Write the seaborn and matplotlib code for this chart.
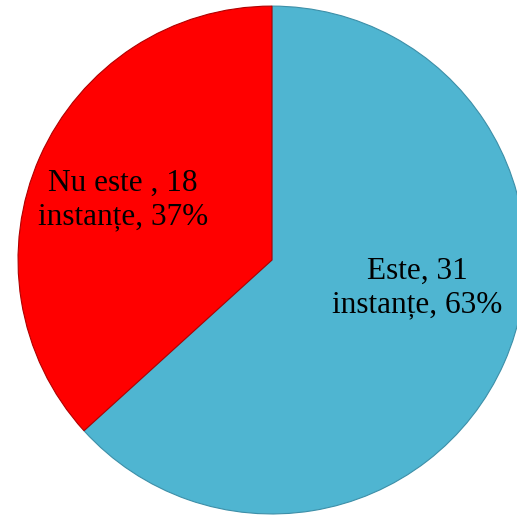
import matplotlib
matplotlib.use("Agg")
import matplotlib.pyplot as plt
import seaborn as sns

# Date
categorii = ['Este', 'Nu este ']
instante = [31, 18]
procente = [63, 37]
culori = ['#4FB5D1', '#FF0000']

sns.set_theme(style="white")
plt.rcParams['font.family'] = ['Liberation Serif', 'DejaVu Serif']

fig = plt.figure(figsize=(5.17, 5.17), dpi=100)
ax = fig.add_axes([0, 0, 1, 1])

wedges, _ = ax.pie(instante, colors=culori, startangle=90, counterclock=False,
                   radius=1.0, wedgeprops=dict(edgecolor='#3D8FA8', linewidth=0.8))
wedges[1].set_edgecolor('#B00000')

# etichete
ax.text(0.571, -0.11, f'{categorii[0]}, {instante[0]}\ninstanțe, {procente[0]}%',
        ha='center', va='center', fontsize=22.5, linespacing=1.22, color='black')
ax.text(-0.587, 0.236, f'{categorii[1]}, {instante[1]}\ninstanțe, {procente[1]}%',
        ha='center', va='center', fontsize=22.5, linespacing=1.22, color='black')

ax.set_xlim(-1.071, 0.965)
ax.set_ylim(-1.012, 1.024)
ax.set_aspect('auto')
ax.axis('off')

plt.savefig('out.png', dpi=100)
